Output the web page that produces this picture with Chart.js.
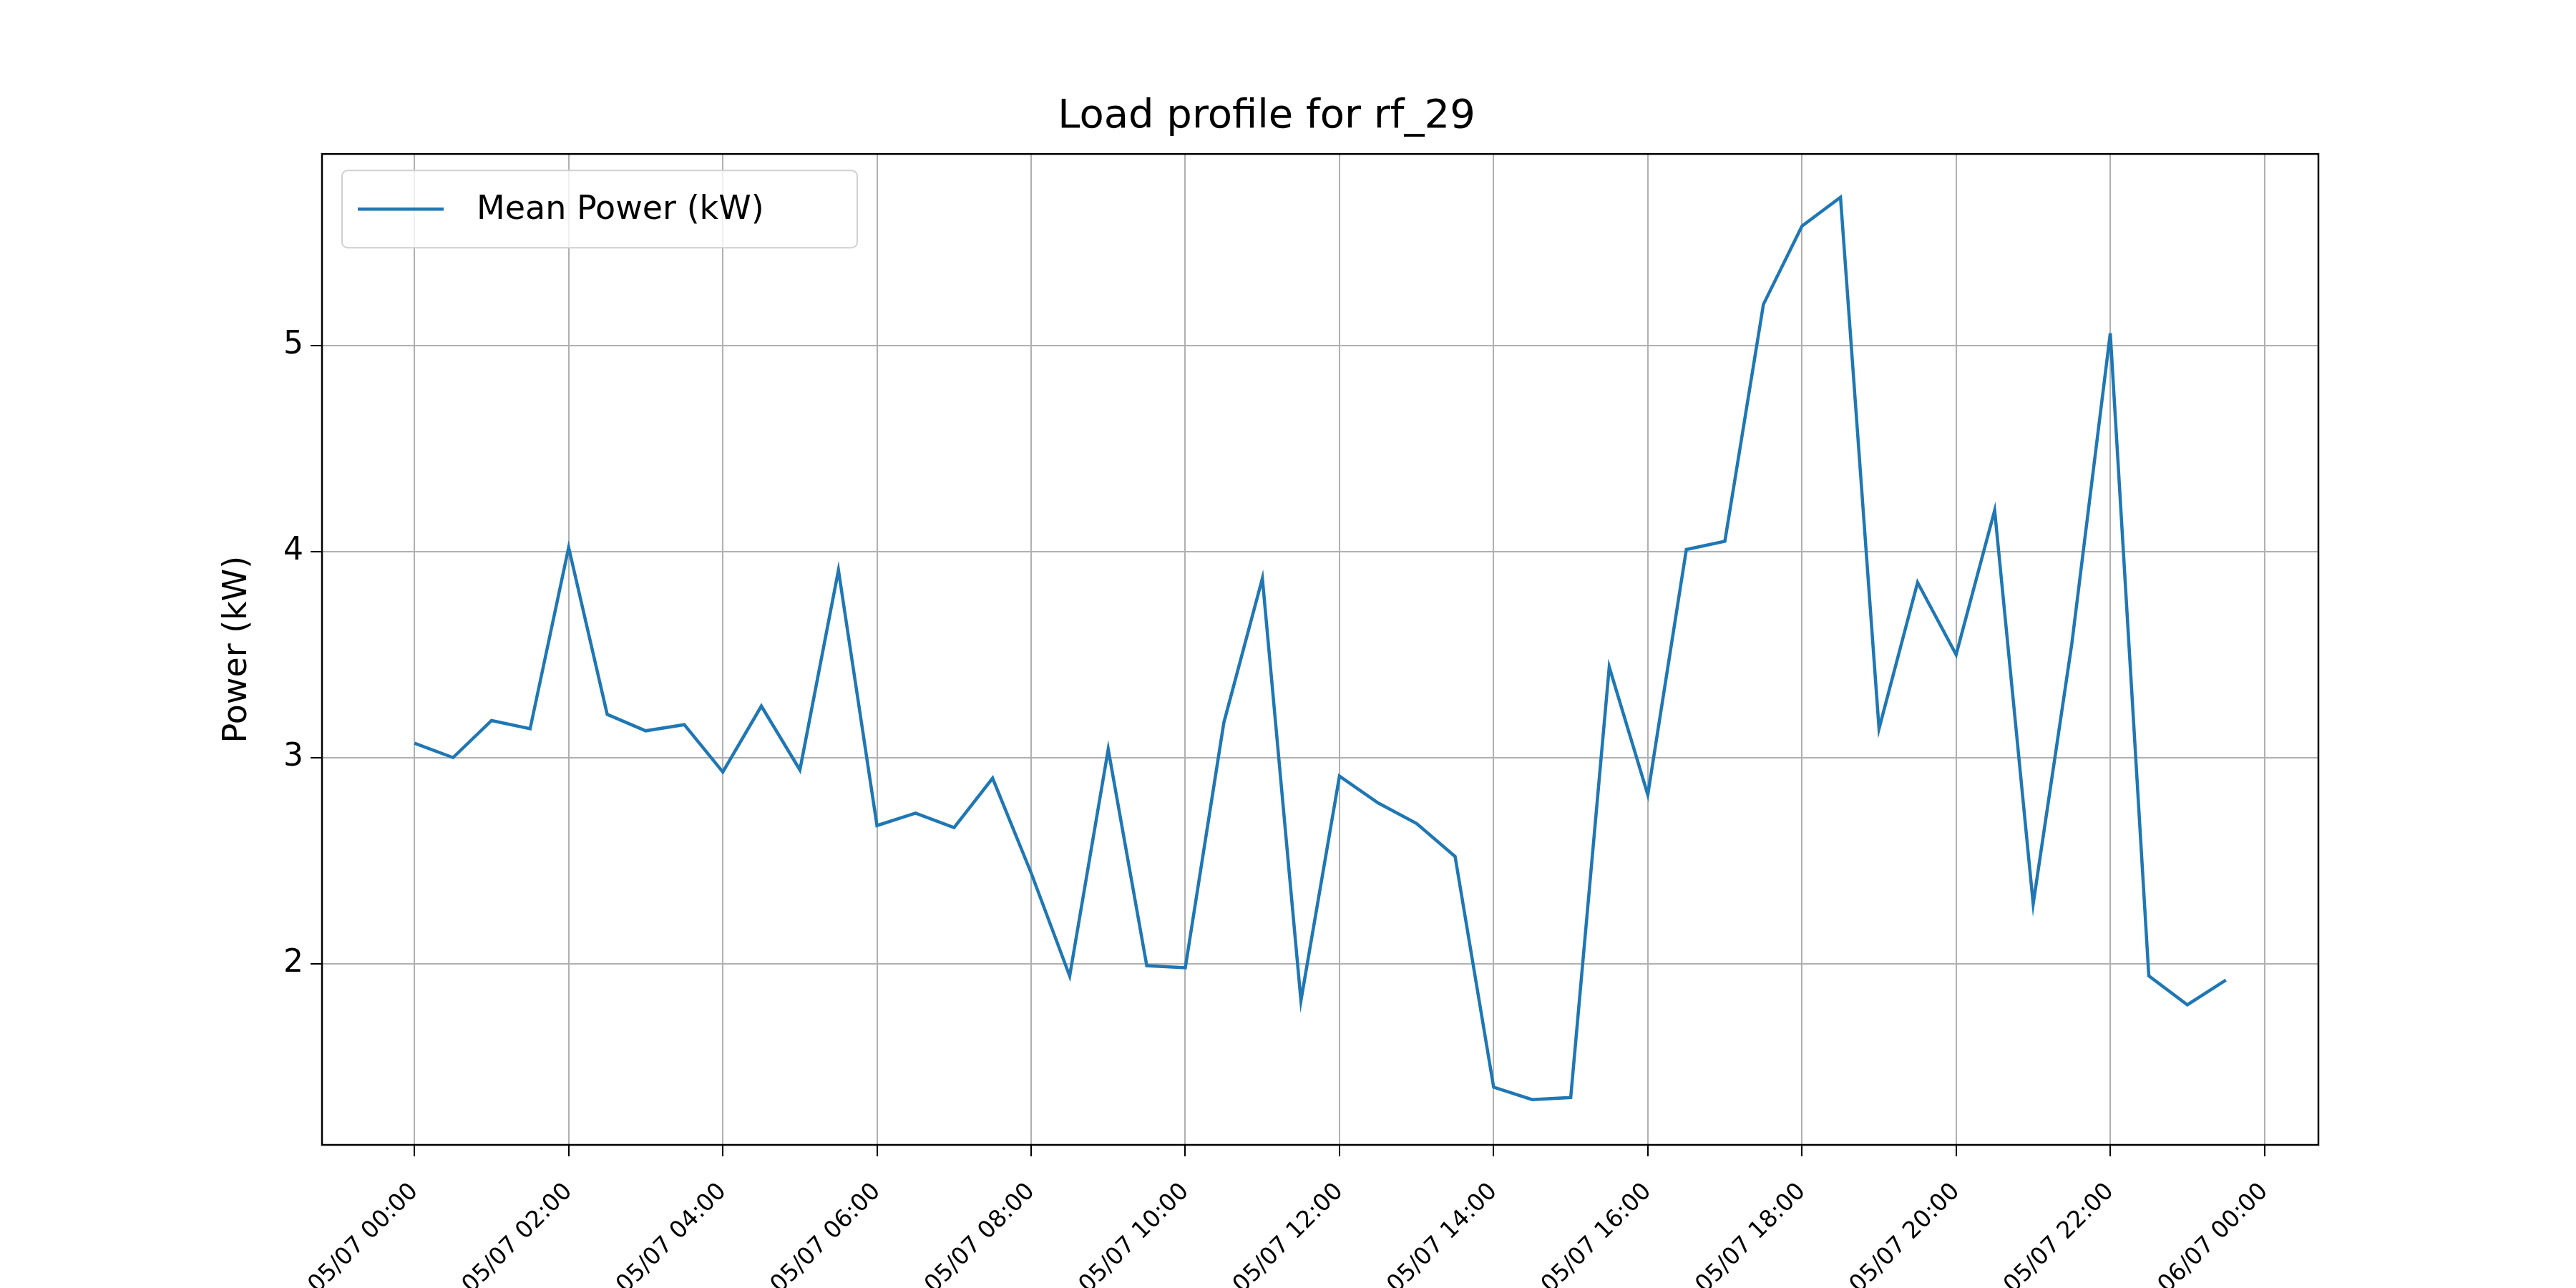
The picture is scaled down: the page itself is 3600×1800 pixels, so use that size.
<!DOCTYPE html>
<html><head><meta charset="utf-8">
<script src="https://cdn.jsdelivr.net/npm/chart.js@4"></script>
<style>html,body{margin:0;padding:0;background:#fff}#c{display:block}</style>
</head><body>
<div style="width:3600px;height:1800px"><canvas id="c" width="3600" height="1800"></canvas></div>
<script>
const hours = [0,0.5,1,1.5,2,2.5,3,3.5,4,4.5,5,5.5,6,6.5,7,7.5,8,8.5,9,9.5,10,10.5,11,11.5,12,12.5,13,13.5,14,14.5,15,15.5,16,16.5,17,17.5,18,18.5,19,19.5,20,20.5,21,21.5,22,22.5,23,23.5];
const power = [3.07,3.00,3.18,3.14,4.02,3.21,3.13,3.16,2.93,3.25,2.94,3.91,2.67,2.73,2.66,2.90,2.44,1.94,3.04,1.99,1.98,3.17,3.87,1.82,2.91,2.78,2.68,2.52,1.40,1.34,1.35,3.44,2.82,4.01,4.05,5.20,5.58,5.72,3.14,3.85,3.50,4.20,2.29,3.55,5.06,1.94,1.80,1.92];
const xTickHours = [0,2,4,6,8,10,12,14,16,18,20,22,24];
const xTickLabels = ["05/07 00:00","05/07 02:00","05/07 04:00","05/07 06:00","05/07 08:00","05/07 10:00","05/07 12:00","05/07 14:00","05/07 16:00","05/07 18:00","05/07 20:00","05/07 22:00","06/07 00:00"];
const yTicks = [2,3,4,5];
const seriesName = "Mean Power (kW)";
const titleText = "Load profile for rf_29";
const yLabel = "Power (kW)";
const blue = "#1f77b4";

const legendPlugin = {
  id:'inlegend',
  afterDraw(chart){
    const ctx = chart.ctx, a = chart.chartArea;
    const x0 = a.left+28, y0 = a.top+23, w = 720, h = 108;
    ctx.save();
    ctx.fillStyle='rgba(255,255,255,0.8)';
    ctx.strokeStyle='#d0d0d0'; ctx.lineWidth=2;
    ctx.beginPath(); ctx.roundRect(x0,y0,w,h,8); ctx.fill(); ctx.stroke();
    ctx.strokeStyle=blue; ctx.lineWidth=4.5;
    ctx.beginPath(); ctx.moveTo(x0+22,y0+h/2); ctx.lineTo(x0+142,y0+h/2); ctx.stroke();
    ctx.fillStyle='#000'; ctx.font='46px "DejaVu Sans"'; ctx.textBaseline='middle';
    ctx.fillText(seriesName,x0+188,y0+h/2+2);
    ctx.restore();
  }
};
const framePlugin = {
  id:'frame',
  afterDraw(chart){
    const ctx=chart.ctx,a=chart.chartArea;
    ctx.save(); ctx.strokeStyle='#000'; ctx.lineWidth=2.5;
    ctx.strokeRect(a.left,a.top,a.right-a.left,a.bottom-a.top); ctx.restore();
  }
};

new Chart(document.getElementById('c'),{
  type:'line',
  data:{datasets:[{label:seriesName,data:hours.map((h,i)=>({x:h,y:power[i]})),borderColor:blue,borderWidth:4.5,pointRadius:0,tension:0,fill:false}]},
  options:{
    responsive:false,animation:false,devicePixelRatio:1,
    layout:{padding:{left:300,right:360,top:130,bottom:0}},
    plugins:{
      legend:{display:false},tooltip:{enabled:false},
      title:{display:true,text:titleText,color:'#000',font:{family:'DejaVu Sans',size:56,weight:'normal'},padding:{top:0,bottom:18}}
    },
    scales:{
      x:{type:'linear',min:-1.2,max:24.7,
        afterBuildTicks(s){s.ticks=xTickHours.map(v=>({value:v}));},
        afterFit(s){s.height=200;},
        ticks:{autoSkip:false,maxRotation:45,minRotation:45,color:'#000',font:{family:'DejaVu Sans',size:33},padding:30,
          callback:(v)=>{const i=xTickHours.indexOf(v);return i>=0?xTickLabels[i]:'';}},
        grid:{color:'#b0b0b0',lineWidth:2,drawTicks:true,tickLength:16,tickColor:'#000'},
        border:{display:false}
      },
      y:{min:1.12,max:5.93,
        afterBuildTicks(s){s.ticks=yTicks.map(v=>({value:v}));},
        afterFit(s){s.width=150;},
        title:{display:true,text:yLabel,color:'#000',font:{family:'DejaVu Sans',size:46},padding:{bottom:10}},
        ticks:{color:'#000',font:{family:'DejaVu Sans',size:44},padding:10},
        grid:{color:'#b0b0b0',lineWidth:2,tickLength:16,tickColor:'#000'},
        border:{display:false}
      }
    }
  },
  plugins:[legendPlugin,framePlugin]
});
</script>
</body></html>
